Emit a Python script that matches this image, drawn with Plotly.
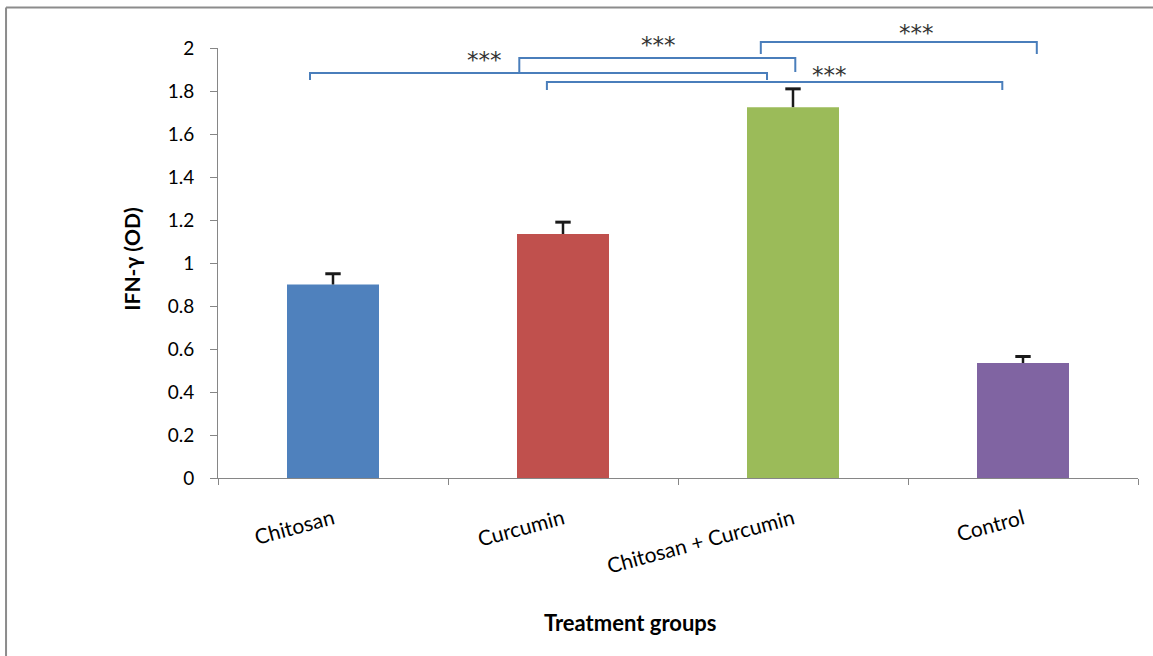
import plotly.graph_objects as go

# IFN-gamma optical density per treatment group
groups = ["Chitosan", "Curcumin", "Chitosan + Curcumin", "Control"]
ifn_od = [0.90, 1.135, 1.725, 0.535]
ifn_err = [0.05, 0.055, 0.085, 0.03]
bar_colors = ["#4F81BD", "#C0504D", "#9BBB59", "#8064A2"]

# significance brackets: (left pos, right pos, bar height, leg bottom, label x, label y)
brackets = [
    (-0.10, 1.887, 1.884, 1.851, 0.657, 1.958),
    (0.81, 2.01, 1.953, 1.888, 1.417, 2.028),
    (1.86, 3.06, 2.028, 1.972, 2.539, 2.084),
    (0.93, 2.91, 1.842, 1.805, 2.157, 1.888),
]
sig_label = "***"

Y_RANGE = [0, 2]


def ypaper(v):
    return (v - Y_RANGE[0]) / (Y_RANGE[1] - Y_RANGE[0])


FONT = "Lato, 'Open Sans', sans-serif"

fig = go.Figure()
fig.add_trace(
    go.Bar(
        x=groups,
        y=ifn_od,
        width=0.4,
        marker=dict(color=bar_colors, line=dict(width=0)),
        error_y=dict(
            type="data",
            array=ifn_err,
            arrayminus=[0] * len(ifn_err),
            symmetric=False,
            color="#1A1A1A",
            thickness=2.5,
            width=0,
        ),
    )
)
# caps on the upper end of each error bar
fig.add_trace(
    go.Scatter(
        x=groups,
        y=[v + e for v, e in zip(ifn_od, ifn_err)],
        mode="markers",
        marker=dict(symbol="line-ew", size=11, line=dict(color="#1A1A1A", width=3)),
        hoverinfo="skip",
    )
)

shapes = []
annotations = []
for xl, xr, yb, yleg, tx, ty in brackets:
    shapes.append(
        dict(
            type="path",
            xref="x",
            yref="paper",
            path=(
                f"M {xl},{ypaper(yleg)} L {xl},{ypaper(yb)} "
                f"L {xr},{ypaper(yb)} L {xr},{ypaper(yleg)}"
            ),
            line=dict(color="#4A7EBB", width=2),
        )
    )
    # asterisk glyphs sit high in the line box, so the label box is nudged down
    annotations.append(
        dict(
            x=tx, y=ypaper(ty - 0.015), xref="x", yref="paper",
            xanchor="center", yanchor="middle",
            text=sig_label, showarrow=False,
            font=dict(family="DejaVu Sans", size=23, color="#333333"),
        )
    )

# outer chart frame (left and top edges)
shapes.append(dict(type="line", xref="paper", yref="paper", x0=-0.2304, x1=-0.2304,
                   y0=-0.5, y1=1.094, line=dict(color="#8C8C8C", width=2)))
shapes.append(dict(type="line", xref="paper", yref="paper", x0=-0.2304, x1=1.05,
                   y0=1.094, y1=1.094, line=dict(color="#8C8C8C", width=2)))

annotations.append(dict(
    x=0.448, y=-0.335, xref="paper", yref="paper", xanchor="center", yanchor="middle",
    text="<b>Treatment groups</b>",
    showarrow=False, font=dict(family=FONT, size=22, color="#000000"),
))
annotations.append(dict(
    x=-0.0935, y=0.51, xref="paper", yref="paper", xanchor="center", yanchor="middle",
    text="<b>IFN-γ (OD)</b>",
    textangle=-90, showarrow=False, font=dict(family=FONT, size=21, color="#000000"),
))

fig.update_layout(
    width=1153,
    height=656,
    margin=dict(l=218, r=15, t=48, b=178),
    paper_bgcolor="white",
    plot_bgcolor="white",
    showlegend=False,
    shapes=shapes,
    annotations=annotations,
    font=dict(family=FONT, size=19, color="#000000"),
    xaxis=dict(
        type="category",
        range=[-0.5, 3.5],
        tickangle=-15,
        tickson="boundaries",
        ticks="outside",
        ticklen=6,
        tickcolor="#868686",
        showline=True,
        linecolor="#868686",
        linewidth=1,
        showgrid=False,
        zeroline=False,
        ticklabelstandoff=20,
        tickfont=dict(family=FONT, size=21),
    ),
    yaxis=dict(
        range=Y_RANGE,
        tickvals=[0, 0.2, 0.4, 0.6, 0.8, 1, 1.2, 1.4, 1.6, 1.8, 2],
        ticktext=["0", "0.2", "0.4", "0.6", "0.8", "1", "1.2", "1.4", "1.6", "1.8", "2"],
        ticks="outside",
        ticklen=7,
        tickcolor="#868686",
        showline=True,
        linecolor="#868686",
        linewidth=1,
        showgrid=False,
        zeroline=False,
        ticklabelstandoff=12,
        tickfont=dict(family=FONT, size=19),
    ),
)

fig.write_html("out.html")
